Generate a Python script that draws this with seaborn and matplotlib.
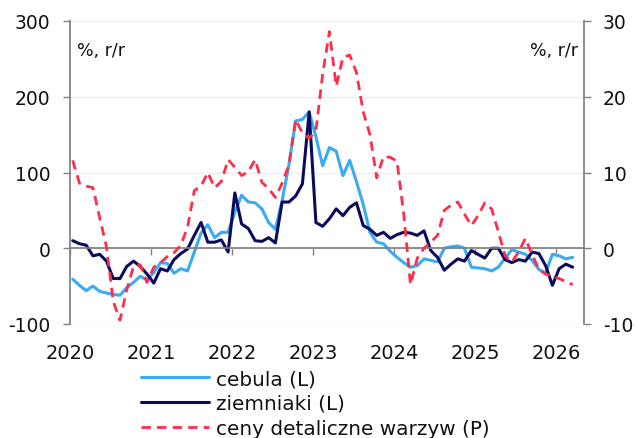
import matplotlib
matplotlib.use("Agg")
import matplotlib.pyplot as plt
import numpy as np
import pandas as pd
import seaborn as sns

# monthly data, Jan 2020 - Mar 2026
months = pd.period_range("2020-01", "2026-03", freq="M")

# left axis, % r/r
cebula = [
    -41, -49, -56, -50, -57, -59, -61, -62, -52, -45, -37, -42,
    -32, -19, -20, -33, -27, -30, -5, 20, 31, 14, 21, 21,
    48, 70, 61, 60, 52, 34, 25, 63, 110, 168, 170, 180,
    147, 109, 133, 128, 96, 116, 88, 58, 21, 8, 6, -4,
    -12, -19, -25, -23, -14, -16, -18, 0, 2, 3, 0, -25,
    -26, -27, -30, -25, -13, -2, -5, -8, -16, -28, -33, -8,
    -10, -14, -12,
]
ziemniaki = [
    10, 6, 4, -10, -8, -17, -40, -40, -24, -17, -24, -34,
    -46, -27, -30, -15, -7, -1, 17, 34, 8, 8, 11, -5,
    73, 32, 26, 10, 9, 14, 7, 61, 61, 69, 85, 180,
    34, 29, 39, 52, 43, 54, 60, 30, 25, 17, 21, 13,
    18, 21, 20, 17, 23, -3, -12, -29, -21, -14, -17, -3,
    -8, -13, 0, 0, -15, -19, -15, -17, -5, -7, -23, -49,
    -27, -21, -25,
]
# right axis, % r/r
ceny_warzyw = [
    11.6, 8.6, 8.2, 8.0, 4.0, 0.2, -7.0, -9.5, -5.5, -2.4, -2.2, -4.5,
    -2.5, -1.9, -1.1, -0.6, 0.4, 2.8, 7.6, 8.2, 10.0, 8.0, 8.8, 11.7,
    10.7, 9.6, 10.1, 11.7, 8.7, 7.9, 6.7, 8.6, 11.0, 17.0, 15.2, 14.5,
    15.5, 23.0, 28.6, 21.4, 25.2, 25.5, 23.2, 18.0, 15.0, 9.3, 12.1, 12.0,
    11.5, 4.5, -4.8, -1.3, 0.0, 0.8, 1.7, 5.0, 5.7, 6.1, 4.5, 3.0,
    4.3, 6.0, 5.2, 2.2, -1.0, -1.8, -0.5, 1.3, -0.8, -2.8, -3.4, -3.7,
    -4.0, -4.4, -4.8,
]

years = [2020, 2021, 2022, 2023, 2024, 2025, 2026]
left_ticks = [-100, 0, 100, 200, 300]
right_ticks = [-10, 0, 10, 20, 30]

labels = {
    "cebula": "cebula (L)",
    "ziemniaki": "ziemniaki (L)",
    "ceny": "ceny detaliczne warzyw (P)",
}
colors = {"cebula (L)": "#3AAAF2", "ziemniaki (L)": "#0B0B5E"}
red = "#FF2D4B"
grey = "#808080"

x = months.year + (months.month - 0.6) / 12

left = pd.DataFrame({
    "x": np.concatenate([x, x]),
    "value": cebula + ziemniaki,
    "seria": [labels["cebula"]] * len(cebula) + [labels["ziemniaki"]] * len(ziemniaki),
})
right = pd.DataFrame({"x": x, "value": ceny_warzyw})

sns.set_theme(style="white")
plt.rcParams["font.family"] = ["DejaVu Sans"]
plt.rcParams["axes.unicode_minus"] = False

fig = plt.figure(figsize=(6.37, 4.39), dpi=100)
ax = fig.add_axes([70 / 637, 1 - 325 / 439, 514 / 637, 303 / 439])
ax2 = ax.twinx()

sns.lineplot(data=left, x="x", y="value", hue="seria", palette=colors,
             linewidth=2.2, ax=ax)
sns.lineplot(data=right, x="x", y="value", color=red, linewidth=2.0,
             dashes=False, ax=ax2, label=labels["ceny"])
ax2.lines[0].set_dashes((3.4, 2.2))
ax.get_legend().remove()
ax2.get_legend().remove()

ax.set_xlim(2020, 2026.34)
ax.set_ylim(-100, 300)
ax2.set_ylim(-10, 30)
ax.set_xticks(years)
ax.set_xticklabels([str(y) for y in years])
ax.set_yticks(left_ticks)
ax2.set_yticks(right_ticks)
ax.set_xlabel("")
ax.set_ylabel("")
ax2.set_ylabel("")

ax.yaxis.grid(True, color="#EFEFEF", linewidth=1)
ax.set_axisbelow(True)

for s in ["top", "right"]:
    ax.spines[s].set_visible(False)
for s in ["top", "left", "bottom"]:
    ax2.spines[s].set_visible(False)
ax.spines["left"].set_color(grey)
ax.spines["bottom"].set_color(grey)
ax.spines["bottom"].set_position(("data", 0))
ax2.spines["right"].set_color(grey)

ax.tick_params(axis="y", direction="out", length=5, width=1, color=grey,
               pad=9, labelsize=13.5, labelcolor="#111111", left=True)
ax2.tick_params(axis="y", direction="out", length=5, width=1, color=grey,
                pad=8.5, labelsize=13.5, labelcolor="#111111", right=True)
ax.tick_params(axis="x", direction="out", length=5, width=1, color=grey,
               pad=63, labelsize=14, labelcolor="#111111", bottom=True)

fig.text(77 / 637, 1 - 42 / 439, "%, r/r", fontsize=12.5, va="top", ha="left",
         color="#111111")
fig.text(578 / 637, 1 - 42 / 439, "%, r/r", fontsize=12.5, va="top", ha="right",
         color="#111111")

handles = ax.get_lines()[:2] + ax2.get_lines()[:1]
fig.legend(handles, [labels["cebula"], labels["ziemniaki"], labels["ceny"]],
           loc="upper left", bbox_to_anchor=(141 / 637, 1 - 370 / 439),
           frameon=False, fontsize=14.4, handlelength=3.4, handletextpad=0.35,
           labelspacing=0.3, borderpad=0, borderaxespad=0,
           labelcolor="#111111")

fig.savefig("out.png", dpi=100)
